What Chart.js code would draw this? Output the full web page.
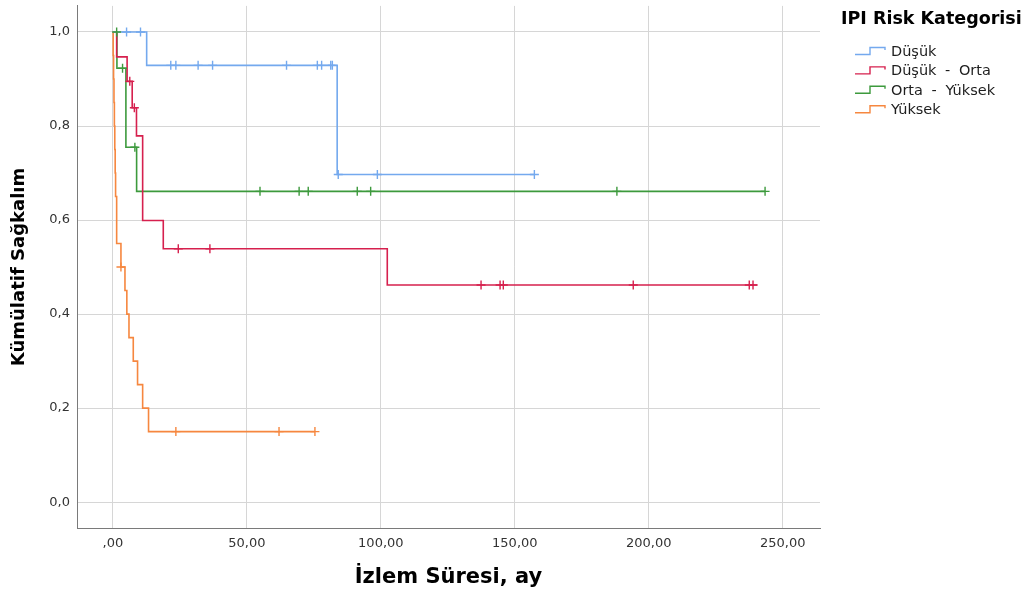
<!DOCTYPE html>
<html>
<head>
<meta charset="utf-8">
<script src="https://cdn.jsdelivr.net/npm/chart.js@4.4.0/dist/chart.umd.min.js"></script>
<style>
  html, body { margin: 0; padding: 0; background: #ffffff; }
  #wrap { width: 1029px; height: 599px; position: relative; }
</style>
</head>
<body>
<div id="wrap"><canvas id="km" width="1029" height="599"></canvas></div>
<script>
// Kaplan-Meier survival by IPI risk category (time in months)
const legendTitle = 'IPI Risk Kategorisi';
const groupNames = ['Düşük', 'Düşük - Orta', 'Orta - Yüksek', 'Yüksek'];
const groupColors = ['#74a9ee', '#d6204e', '#3d9a3d', '#f6873f'];

// Düşük
const dusukTimes = [0, 12.6, 83.7, 157.3];
const dusukSurv = [1, 0.929, 0.697, 0.697];
const dusukCensored = [5.1, 10.3, 21.6, 23.5, 31.8, 37.2, 64.8, 76.3, 77.9, 81.3, 81.9, 84.1, 98.7, 157.3];

// Düşük - Orta
const dusukOrtaTimes = [0, 1.4, 5.3, 7.2, 8.8, 11.1, 18.8, 102.4, 240.5];
const dusukOrtaSurv = [1, 0.947, 0.895, 0.839, 0.779, 0.599, 0.539, 0.462, 0.462];
const dusukOrtaCensored = [6.3, 8.0, 24.4, 36.2, 137.4, 144.5, 145.7, 194.2, 237.5, 238.9];

// Orta - Yüksek
const ortaYuksekTimes = [0, 1.5, 4.85, 8.85, 243.4];
const ortaYuksekSurv = [1, 0.923, 0.755, 0.661, 0.661];
const ortaYuksekCensored = [1.4, 3.6, 8.2, 54.9, 69.5, 72.9, 91.2, 96.2, 188.1, 243.4];

// Yüksek
const yuksekTimes = [0, 0.1, 0.25, 0.4, 0.55, 0.7, 0.85, 1.0, 1.4, 3.0, 4.5, 5.2, 6.0, 7.6, 9.2, 11.1, 13.3, 75.4];
const yuksekSurv = [1, 0.95, 0.90, 0.85, 0.80, 0.75, 0.70, 0.65, 0.55, 0.50, 0.45, 0.40, 0.35, 0.30, 0.25, 0.20, 0.15, 0.15];
const yuksekCensored = [3.0, 23.5, 62.0, 75.4];

// Axis ticks
const xTickValues = [0, 50, 100, 150, 200, 250];
const yTickValues = [0, 0.2, 0.4, 0.6, 0.8, 1.0];

const groups = [
  { times: dusukTimes, surv: dusukSurv, censored: dusukCensored },
  { times: dusukOrtaTimes, surv: dusukOrtaSurv, censored: dusukOrtaCensored },
  { times: ortaYuksekTimes, surv: ortaYuksekSurv, censored: ortaYuksekCensored },
  { times: yuksekTimes, surv: yuksekSurv, censored: yuksekCensored }
];

// survival level in effect at time t (step function)
function survivalAt(g, t) {
  let s = g.surv[0];
  for (let i = 0; i < g.times.length; i++) {
    if (g.times[i] <= t) s = g.surv[i];
  }
  return s;
}

const datasets = [];
groups.forEach((g, i) => {
  datasets.push({
    type: 'line',
    label: groupNames[i],
    data: g.times.map((t, k) => ({ x: t, y: g.surv[k] })),
    stepped: 'before',
    borderColor: groupColors[i],
    borderWidth: 1.6,
    pointRadius: 0,
    fill: false,
    order: 2
  });
});
groups.forEach((g, i) => {
  datasets.push({
    type: 'scatter',
    label: groupNames[i] + ' (sansürlü)',
    data: g.censored.map(t => ({ x: t, y: survivalAt(g, t) })),
    pointStyle: 'cross',
    pointRadius: 4.5,
    pointBorderWidth: 1.4,
    borderColor: groupColors[i],
    backgroundColor: groupColors[i],
    showLine: false,
    order: 1
  });
});

function fmtX(v) {
  if (v === 0) return ',00';
  return v.toFixed(2).replace('.', ',');
}
function fmtY(v) {
  return v.toFixed(1).replace('.', ',');
}

const stepLegend = {
  id: 'stepLegend',
  afterDraw(chart) {
    const ctx = chart.ctx;
    ctx.save();
    ctx.textBaseline = 'middle';
    ctx.textAlign = 'left';
    ctx.fillStyle = '#000000';
    ctx.font = 'bold 17.5px "DejaVu Sans"';
    ctx.fillText(legendTitle, 841, 19);
    groupNames.forEach((name, i) => {
      const y = 52 + i * 19.4;
      ctx.strokeStyle = groupColors[i];
      ctx.lineWidth = 1.4;
      ctx.beginPath();
      ctx.moveTo(855, y + 2.5);
      ctx.lineTo(870, y + 2.5);
      ctx.lineTo(870, y - 4.5);
      ctx.lineTo(885, y - 4.5);
      ctx.lineTo(885, y - 2);
      ctx.stroke();
      ctx.fillStyle = '#1e1e1e';
      ctx.font = '14.5px "DejaVu Sans"';
      ctx.wordSpacing = '4px';
      ctx.fillText(name, 891, y);
    });
    ctx.restore();
  }
};

new Chart(document.getElementById('km'), {
  data: { datasets },
  options: {
    responsive: false,
    animation: false,
    devicePixelRatio: 1,
    layout: { padding: { left: 0, top: 2, right: 209, bottom: 0 } },
    plugins: {
      legend: { display: false },
      tooltip: { enabled: false }
    },
    scales: {
      x: {
        type: 'linear',
        min: -13.4,
        max: 263.9,
        afterBuildTicks: s => { s.ticks = xTickValues.map(v => ({ value: v })); },
        afterFit: s => { s.height = 71; s.paddingLeft = 0; s.paddingRight = 0; },
        ticks: {
          callback: v => fmtX(v),
          font: { family: '"DejaVu Sans"', size: 13 },
          color: '#333333',
          padding: 8,
          maxRotation: 0
        },
        grid: { color: '#d6d6d6', lineWidth: 1, drawTicks: false },
        border: { color: '#7a7a7a', width: 1 },
        title: {
          display: true,
          text: 'İzlem Süresi, ay',
          font: { family: '"DejaVu Sans"', size: 21, weight: 'bold' },
          color: '#000000',
          padding: { top: 0, bottom: 9 }
        }
      },
      y: {
        type: 'linear',
        min: -0.055,
        max: 1.0555,
        afterBuildTicks: s => { s.ticks = yTickValues.map(v => ({ value: v })); },
        afterFit: s => { s.width = 77; s.paddingTop = 0; s.paddingBottom = 0; },
        ticks: {
          callback: v => fmtY(v),
          font: { family: '"DejaVu Sans"', size: 13 },
          color: '#333333',
          padding: 7
        },
        grid: { color: '#d6d6d6', lineWidth: 1, drawTicks: false },
        border: { color: '#7a7a7a', width: 1 },
        title: {
          display: true,
          text: 'Kümülatif Sağkalım',
          font: { family: '"DejaVu Sans"', size: 18, weight: 'bold' },
          color: '#000000',
          padding: { top: 9, bottom: 0 }
        }
      }
    }
  },
  plugins: [stepLegend]
});
</script>
</body>
</html>
